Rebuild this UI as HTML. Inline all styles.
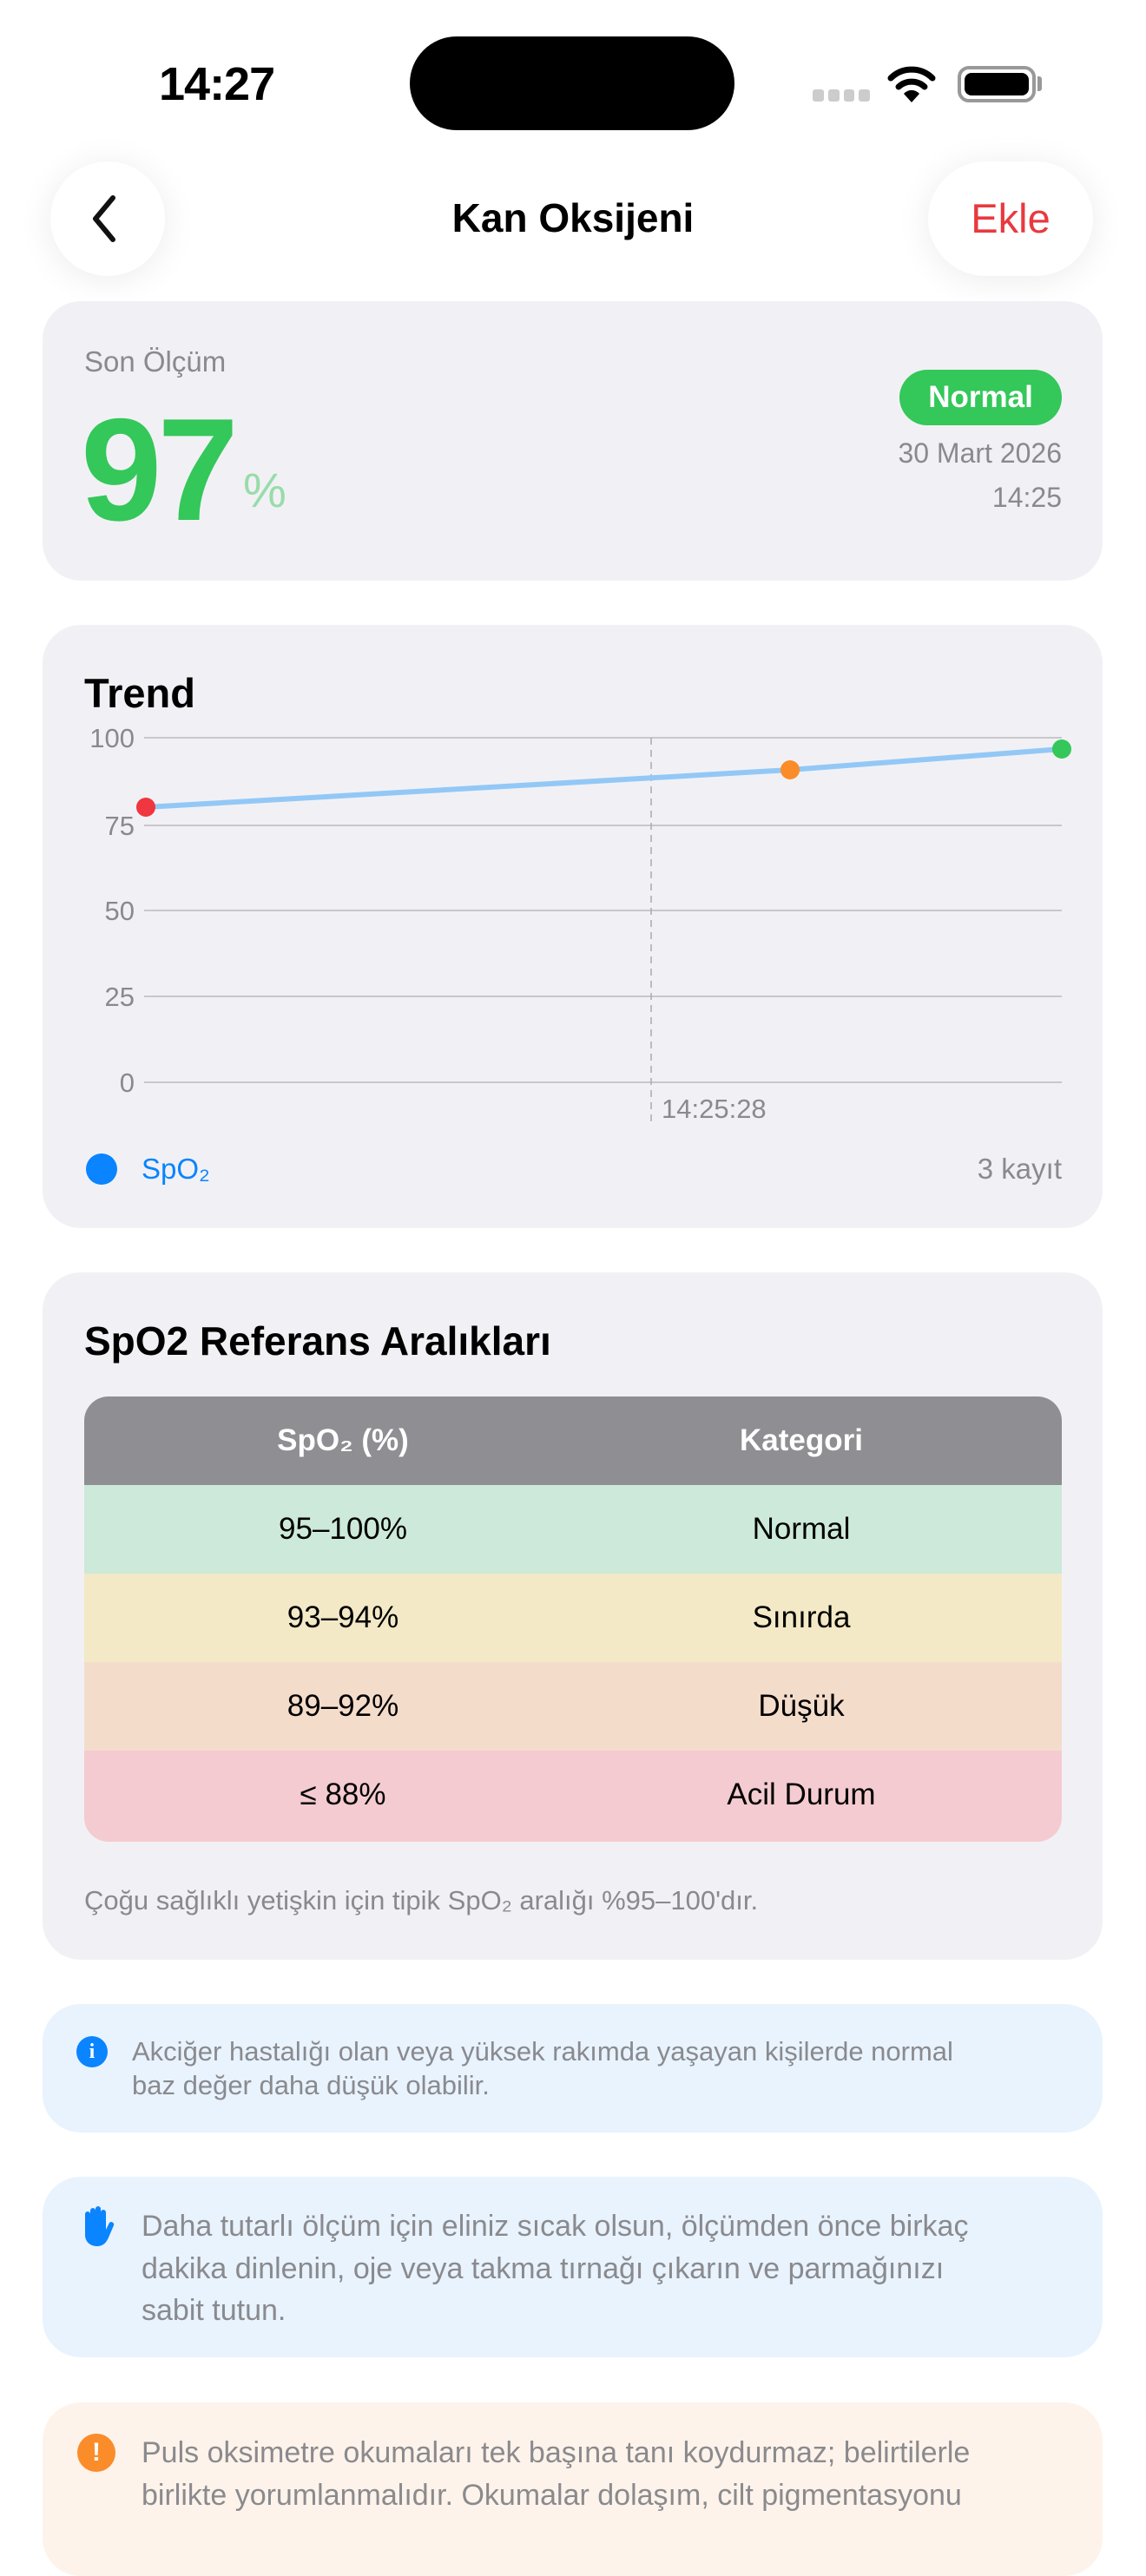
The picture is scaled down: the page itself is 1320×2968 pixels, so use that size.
<!DOCTYPE html>
<html><head><meta charset="utf-8"><style>
*{margin:0;padding:0;box-sizing:border-box}
body{width:1320px;height:2868px;background:#fff;font-family:"Liberation Sans",sans-serif;position:relative;overflow:hidden;color:#000}
.a{position:absolute;white-space:nowrap}
.card{position:absolute;left:49px;width:1221px;background:#f1f1f5;border-radius:44px}
.g{color:#8a8a8e}
.row{position:absolute;left:0;width:1126px;height:102px}
.row span{position:absolute;top:0;line-height:102px;font-size:35px;transform:translateX(-50%)}
</style></head><body>
<div class="a" style="left:183px;top:66px;font-size:54px;font-weight:bold;letter-spacing:-1px">14:27</div>
<div class="a" style="left:472px;top:42px;width:374px;height:108px;background:#000;border-radius:54px"></div>
<div class="a" style="left:936px;top:103px;width:66px;height:14px;display:flex;gap:5px"><i style="flex:1;background:#ccc;border-radius:3px"></i><i style="flex:1;background:#ccc;border-radius:3px"></i><i style="flex:1;background:#ccc;border-radius:3px"></i><i style="flex:1;background:#ccc;border-radius:3px"></i></div>
<svg class="a" style="left:1022px;top:74px" width="56" height="46" viewBox="0 0 56 46"><path d="M4 16 A34 34 0 0 1 52 16" stroke="#000" stroke-width="7" fill="none" stroke-linecap="round"/><path d="M13 26 A22 22 0 0 1 43 26" stroke="#000" stroke-width="7" fill="none" stroke-linecap="round"/><path d="M28 44 L19 34 A12 12 0 0 1 37 34 Z" fill="#000"/></svg>
<div class="a" style="left:1103px;top:76px;width:90px;height:42px;border:4px solid #999;border-radius:13px;padding:4px"><div style="width:100%;height:100%;background:#000;border-radius:8px"></div></div>
<div class="a" style="left:1195px;top:88px;width:5px;height:17px;background:#999;border-radius:0 3px 3px 0"></div>

<div class="a" style="left:58px;top:186px;width:132px;height:132px;border-radius:66px;background:#fff;box-shadow:0 4px 40px rgba(0,0,0,0.08)"></div>
<svg class="a" style="left:100px;top:224px" width="40" height="56"><path d="M30 4 L10 28 L30 52" stroke="#111" stroke-width="6" fill="none" stroke-linecap="round" stroke-linejoin="round"/></svg>
<div class="a" style="left:0;width:1320px;top:224px;text-align:center;font-size:46px;font-weight:bold">Kan Oksijeni</div>
<div class="a" style="left:1069px;top:186px;width:190px;height:132px;border-radius:66px;background:#fff;box-shadow:0 4px 40px rgba(0,0,0,0.08)"></div>
<div class="a" style="left:1069px;top:224px;width:190px;text-align:center;font-size:47px;color:#e8393f">Ekle</div>

<div class="card" style="top:347px;height:322px"></div>
<div class="a g" style="left:97px;top:398px;font-size:33px">Son Ölçüm</div>
<div class="a" style="left:93px;top:457px;font-size:168px;font-weight:bold;color:#34c759;letter-spacing:-5px;line-height:1">97</div>
<div class="a" style="left:280px;top:532px;font-size:56px;color:#98dca9">%</div>
<div class="a" style="left:1036px;top:426px;width:187px;height:64px;border-radius:32px;background:#34c759;color:#fff;font-weight:bold;font-size:35px;text-align:center;line-height:64px">Normal</div>
<div class="a g" style="right:97px;top:504px;font-size:32px">30 Mart 2026</div>
<div class="a g" style="right:97px;top:555px;font-size:32px">14:25</div>

<div class="card" style="top:720px;height:695px"></div>
<div class="a" style="left:97px;top:771px;font-size:47px;font-weight:bold">Trend</div>
<svg class="a" style="left:0;top:820px" width="1320" height="500">
<g stroke="#c8c8cc" stroke-width="2"><line x1="166" x2="1223" y1="30" y2="30"/><line x1="166" x2="1223" y1="131" y2="131"/><line x1="166" x2="1223" y1="229" y2="229"/><line x1="166" x2="1223" y1="328" y2="328"/><line x1="166" x2="1223" y1="427" y2="427"/></g>
<line x1="750" x2="750" y1="30" y2="478" stroke="#aaa" stroke-width="1.5" stroke-dasharray="8 6"/>
<g font-size="31" fill="#8a8a8e" text-anchor="end" font-family="Liberation Sans"><text x="155" y="41">100</text><text x="155" y="142">75</text><text x="155" y="240">50</text><text x="155" y="339">25</text><text x="155" y="438">0</text></g>
<text x="762" y="468" font-size="31" fill="#8a8a8e" font-family="Liberation Sans">14:25:28</text>
<polyline points="168,110 910,67 1223,43" stroke="#93c8f6" stroke-width="6" fill="none"/>
<circle cx="168" cy="110" r="11" fill="#f0363e"/><circle cx="910" cy="67" r="11" fill="#fb8c2a"/><circle cx="1223" cy="43" r="11" fill="#34c759"/>
</svg>
<div class="a" style="left:99px;top:1329px;width:36px;height:36px;border-radius:50%;background:#0a84ff"></div>
<div class="a" style="left:163px;top:1328px;font-size:33px;color:#0a84ff">SpO₂</div>
<div class="a g" style="right:97px;top:1328px;font-size:33px">3 kayıt</div>

<div class="card" style="top:1466px;height:792px"></div>
<div class="a" style="left:97px;top:1518px;font-size:46px;font-weight:bold">SpO2 Referans Aralıkları</div>
<div class="a" style="left:97px;top:1609px;width:1126px;height:513px;border-radius:28px;overflow:hidden">
<div class="row" style="top:0;background:#8e8e93;color:#fff;font-weight:bold"><span style="left:298px">SpO₂ (%)</span><span style="left:826px">Kategori</span></div>
<div class="row" style="top:102px;background:#cde9d9"><span style="left:298px">95–100%</span><span style="left:826px">Normal</span></div>
<div class="row" style="top:204px;background:#f3e9c6"><span style="left:298px">93–94%</span><span style="left:826px">Sınırda</span></div>
<div class="row" style="top:306px;background:#f4dccb"><span style="left:298px">89–92%</span><span style="left:826px">Düşük</span></div>
<div class="row" style="top:408px;height:105px;background:#f4cbd0"><span style="left:298px">≤ 88%</span><span style="left:826px">Acil Durum</span></div>
</div>
<div class="a g" style="left:97px;top:2172px;font-size:31px">Çoğu sağlıklı yetişkin için tipik SpO₂ aralığı %95–100'dır.</div>

<div class="card" style="top:2309px;height:148px;background:#e8f3fe"></div>
<div class="a" style="left:88px;top:2346px;width:36px;height:36px;border-radius:50%;background:#0a84ff;color:#fff;font-size:24px;font-weight:bold;text-align:center;line-height:36px;font-family:'Liberation Serif',serif">i</div>
<div class="a g" style="left:152px;top:2344px;font-size:31px;line-height:39px">Akciğer hastalığı olan veya yüksek rakımda yaşayan kişilerde normal<br>baz değer daha düşük olabilir.</div>

<div class="card" style="top:2508px;height:208px;background:#e8f3fe"></div>
<svg class="a" style="left:92px;top:2541px" width="40" height="48" viewBox="0 0 40 48"><path d="M6 30 V10 a3 3 0 0 1 6 0 V22 V6 a3 3 0 0 1 6 0 V22 V4 a3 3 0 0 1 6 0 V22 V8 a3 3 0 0 1 6 0 V28 l4 -8 a3 3 0 0 1 5 3 l-6 14 C30 44 26 47 20 47 C12 47 6 42 6 34 Z" fill="#0a84ff"/></svg>
<div class="a g" style="left:163px;top:2541px;font-size:34px;line-height:48.5px">Daha tutarlı ölçüm için eliniz sıcak olsun, ölçümden önce birkaç<br>dakika dinlenin, oje veya takma tırnağı çıkarın ve parmağınızı<br>sabit tutun.</div>

<div class="card" style="top:2768px;height:200px;background:#fdf3ea"></div>
<div class="a" style="left:89px;top:2804px;width:44px;height:44px;border-radius:50%;background:#fb8c2a;color:#fff;font-size:30px;font-weight:bold;text-align:center;line-height:44px">!</div>
<div class="a g" style="left:163px;top:2802px;font-size:34px;line-height:48.5px">Puls oksimetre okumaları tek başına tanı koydurmaz; belirtilerle<br>birlikte yorumlanmalıdır. Okumalar dolaşım, cilt pigmentasyonu</div>
</body></html>
